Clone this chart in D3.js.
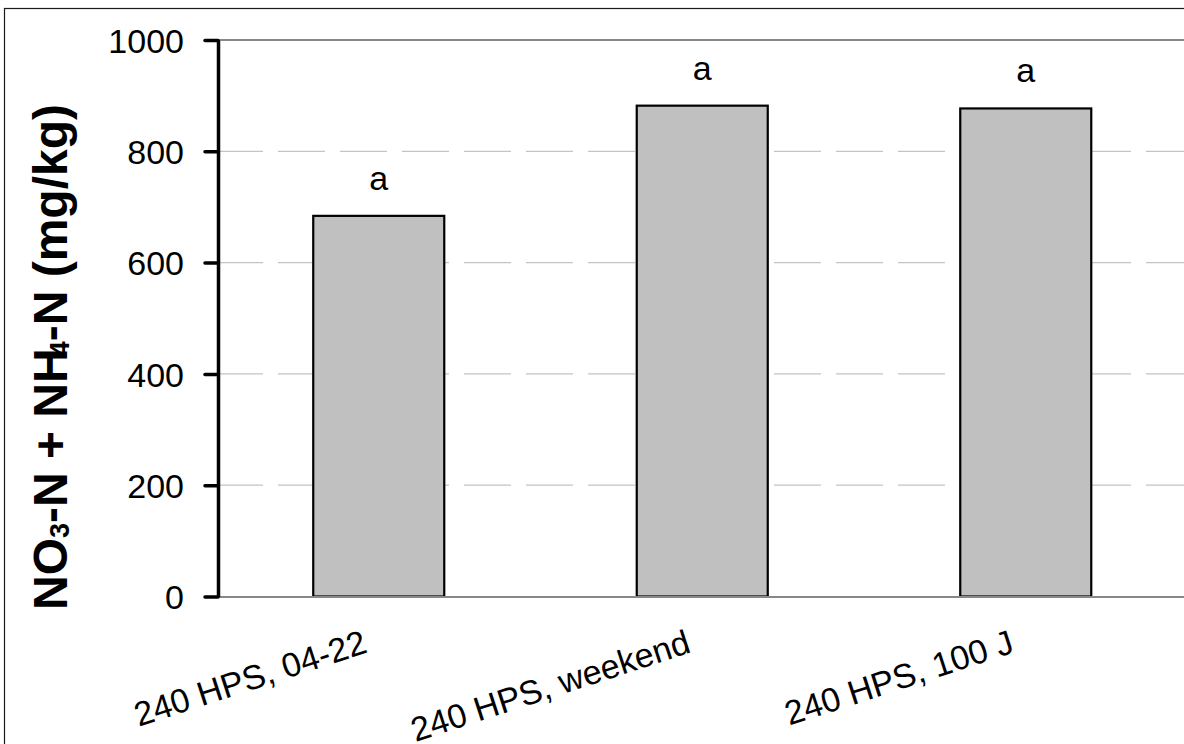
<!DOCTYPE html>
<html>
<head>
<meta charset="utf-8">
<script src="https://cdn.jsdelivr.net/npm/d3@7"></script>
<style>
  body { margin: 0; background: #fff; }
  svg { display: block; font-family: "Liberation Sans", Arial, sans-serif; }
</style>
</head>
<body>
<svg id="chart" width="1184" height="744"></svg>
<script>
// datos
const categories = ["240 HPS, 04-22", "240 HPS, weekend", "240 HPS, 100 J"];
const values = [684, 882, 877];
const letters = ["a", "a", "a"];
const yTicks = [0, 200, 400, 600, 800, 1000];

const svg = d3.select("#chart");

// area del grafico
const plotLeft = 217, plotRight = 1187.5, plotTop = 40, plotBottom = 596.5;

const x = d3.scaleBand()
  .domain(categories)
  .range([plotLeft, plotRight])
  .paddingInner(0.595)
  .paddingOuter(0.2975);

const y = d3.scaleLinear()
  .domain([0, 1000])
  .range([plotBottom, plotTop]);

// marco exterior
svg.append("rect")
  .attr("x", 4.5).attr("y", 8.5)
  .attr("width", 1300).attr("height", 900)
  .attr("fill", "none")
  .attr("stroke", "#1a1a1a")
  .attr("stroke-width", 1.2);

// lineas de la rejilla
svg.append("g")
  .selectAll("line")
  .data(yTicks.filter(d => d > 0 && d < 1000))
  .join("line")
  .attr("x1", plotLeft - 1).attr("x2", plotRight)
  .attr("y1", d => y(d)).attr("y2", d => y(d))
  .attr("stroke", "#c4c4c4")
  .attr("stroke-width", 1.2)
  .attr("stroke-dasharray", "47,15");

// linea superior (1000)
svg.append("line")
  .attr("x1", plotLeft).attr("x2", plotRight)
  .attr("y1", y(1000)).attr("y2", y(1000))
  .attr("stroke", "#888")
  .attr("stroke-width", 2.2);

// barras
svg.append("g")
  .selectAll("rect")
  .data(values)
  .join("rect")
  .attr("x", (d, i) => x(categories[i]))
  .attr("y", d => y(d))
  .attr("width", x.bandwidth())
  .attr("height", d => y(0) - y(d))
  .attr("fill", "#c0c0c0")
  .attr("stroke", "#000")
  .attr("stroke-width", 2.2);

// letras sobre las barras
svg.append("g")
  .selectAll("text")
  .data(values)
  .join("text")
  .attr("x", (d, i) => x(categories[i]) + x.bandwidth() / 2)
  .attr("y", d => y(d) - 26)
  .attr("text-anchor", "middle")
  .attr("font-size", 34)
  .attr("fill", "#000")
  .text((d, i) => letters[i]);

// eje x
const xAxis = svg.append("g")
  .attr("transform", `translate(0,${plotBottom})`)
  .call(d3.axisBottom(x).tickSize(0).tickSizeOuter(0));
xAxis.select(".domain")
  .attr("stroke", "#888")
  .attr("stroke-width", 2.2);
xAxis.selectAll("text")
  .attr("y", 0).attr("dy", 0)
  .attr("font-size", 34)
  .attr("font-family", "Liberation Sans, Arial, sans-serif")
  .attr("fill", "#000")
  .attr("text-anchor", "end")
  .attr("transform", "translate(-10,55.5) rotate(-18)");

// eje y
const yAxis = svg.append("g")
  .attr("transform", `translate(${plotLeft + 1},0)`)
  .call(d3.axisLeft(y).tickValues(yTicks).tickFormat(d3.format("d"))
    .tickSize(13).tickSizeOuter(0).tickPadding(21));
yAxis.select(".domain")
  .attr("stroke", "#000")
  .attr("stroke-width", 3.5);
yAxis.selectAll(".tick line")
  .attr("stroke", "#000")
  .attr("stroke-width", 3.5)
  .attr("stroke-linecap", "round");
yAxis.selectAll(".tick text")
  .attr("font-size", 34)
  .attr("font-family", "Liberation Sans, Arial, sans-serif")
  .attr("fill", "#000")
  .attr("dy", "0.36em");

// titulo del eje y con subindices
const title = svg.append("text")
  .attr("transform", "translate(67,357) rotate(-90)")
  .attr("text-anchor", "middle")
  .attr("font-size", 48)
  .attr("font-weight", "bold")
  .attr("fill", "#000");
title.append("tspan").text("NO");
title.append("tspan").attr("font-size", 27).attr("dy", 2).text("3");
title.append("tspan").attr("dy", -2).text("-N + NH");
title.append("tspan").attr("font-size", 27).attr("dy", 2).attr("dx", -8).text("4");
title.append("tspan").attr("dy", -2).text("-N (mg/kg)");
</script>
</body>
</html>
